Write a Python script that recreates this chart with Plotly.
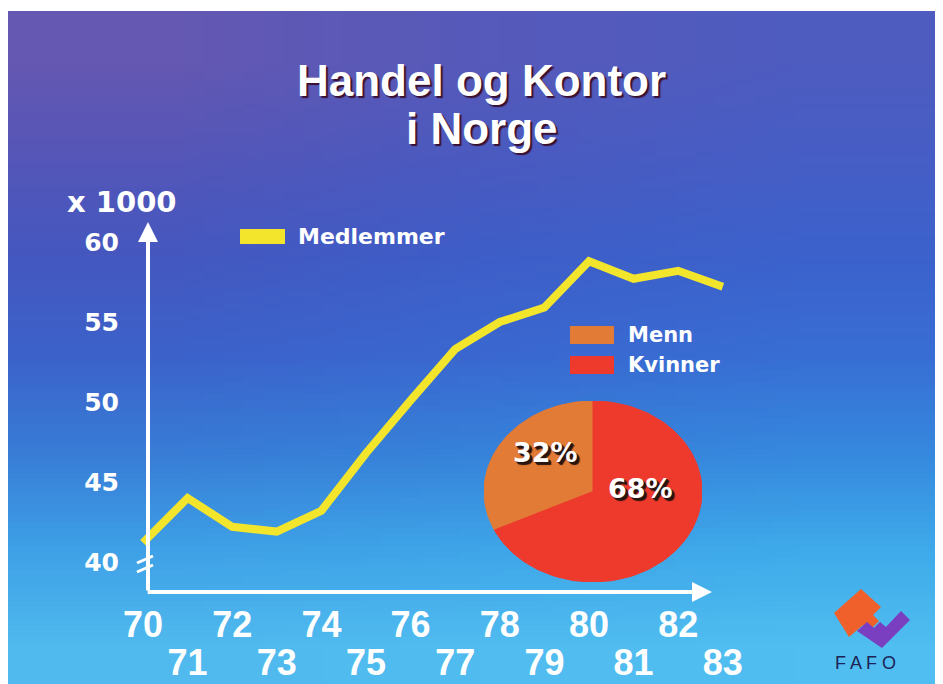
import base64
import struct
import zlib

import numpy as np
import plotly.graph_objects as go

# ---------------- data ----------------
years = [70, 71, 72, 73, 74, 75, 76, 77, 78, 79, 80, 81, 82, 83]
members = [41.2, 44.0, 42.2, 41.9, 43.2, 46.8, 50.1, 53.3, 55.0, 55.9, 58.8, 57.7, 58.2, 57.2]
y_ticks = [40, 45, 50, 55, 60]
series_name = "Medlemmer"
unit_label = "x 1000"
pie_labels = ["Menn", "Kvinner"]
pie_shares = [32, 68]
title_lines = ["Handel og Kontor", "i Norge"]
logo_text = "F A F O"

# ---------------- styling ----------------
W, H = 943, 684
OFF = 8  # page body margin offset of the figure in the screenshot
LINE_COLOR = "#f2e52c"
PIE_COLORS = ["#e27b35", "#ee3a2d"]
WHITE = "#ffffff"


def px_x(px):
    return (px - OFF) / W


def px_y(py):
    return 1 - (py - OFF) / H


# pixel geometry of the main axes (layout only, screenshot pixels)
X0_PX, YEAR_PX = 143, 44.6          # pixel of year 70, pixels per year
Y0_PX, UNIT_PX = 562, 16.0          # pixel of value 40, pixels per unit
XD = (124, 760)                      # x domain in pixels
YD = (200, 592)                      # y domain in pixels (top, bottom)
x_range = [70 + (XD[0] - X0_PX) / YEAR_PX, 70 + (XD[1] - X0_PX) / YEAR_PX]
y_range = [40 + (Y0_PX - YD[1]) / UNIT_PX, 40 + (Y0_PX - YD[0]) / UNIT_PX]


def make_png(rows):
    h = len(rows)
    w = len(rows[0])
    raw = b"".join(b"\x00" + bytes([c for p in row for c in p]) for row in rows)

    def chunk(t, d):
        return struct.pack(">I", len(d)) + t + d + struct.pack(">I", zlib.crc32(t + d) & 0xFFFFFFFF)

    png = (b"\x89PNG\r\n\x1a\n"
           + chunk(b"IHDR", struct.pack(">IIBBBBB", w, h, 8, 2, 0, 0, 0))
           + chunk(b"IDAT", zlib.compress(raw))
           + chunk(b"IEND", b""))
    return "data:image/png;base64," + base64.b64encode(png).decode()


bg_rows = [
    [(100, 88, 178), (86, 90, 186), (78, 92, 192)],
    [(84, 86, 184), (74, 90, 192), (70, 94, 198)],
    [(68, 88, 192), (62, 94, 200), (60, 98, 204)],
    [(60, 98, 202), (58, 104, 208), (56, 110, 212)],
    [(56, 124, 214), (54, 130, 218), (54, 136, 222)],
    [(62, 160, 230), (62, 165, 232), (62, 170, 234)],
    [(80, 186, 238), (80, 188, 240), (80, 190, 240)],
]
bg_src = make_png(bg_rows)

fig = go.Figure()

# main line
fig.add_trace(go.Scatter(
    x=years, y=members, mode="lines", name=series_name,
    line=dict(color=LINE_COLOR, width=8), xaxis="x", yaxis="y",
    hoverinfo="x+y", showlegend=False,
))
# same series bound to the staggered (odd-year) label axis, invisible
fig.add_trace(go.Scatter(
    x=years, y=members, mode="lines", name=series_name,
    line=dict(color="rgba(0,0,0,0)", width=0), xaxis="x2", yaxis="y",
    hoverinfo="skip", showlegend=False,
))

# pie as elliptical wedges on their own axes
cum = 0.0
for lab, share, col in zip(pie_labels, pie_shares, PIE_COLORS):
    a0 = 90 + cum * 3.6
    a1 = 90 + (cum + share) * 3.6
    th = np.radians(np.linspace(a0, a1, 120))
    xs = np.concatenate([[0], np.cos(th), [0]])
    ys = np.concatenate([[0], np.sin(th), [0]])
    fig.add_trace(go.Scatter(
        x=xs, y=ys, mode="lines", fill="toself", fillcolor=col,
        line=dict(color=col, width=1), name=lab, xaxis="x3", yaxis="y3",
        hoverinfo="name", showlegend=False,
    ))
    cum += share

tick_font = dict(family="Liberation Sans, Arial, sans-serif", size=36, color=WHITE, weight="bold")
even_years = [y for y in years if y % 2 == 0]
odd_years = [y for y in years if y % 2 == 1]

layout = dict(
    width=W, height=H,
    margin=dict(l=0, r=0, t=0, b=0),
    paper_bgcolor="#ffffff",
    plot_bgcolor="rgba(0,0,0,0)",
    showlegend=False,
    images=[dict(source=bg_src, xref="paper", yref="paper", x=0, y=px_y(11),
                 sizex=1, sizey=px_y(11), xanchor="left", yanchor="top",
                 sizing="stretch", layer="below")],
    xaxis=dict(
        domain=[px_x(XD[0]), px_x(XD[1])], range=x_range, anchor="y",
        showgrid=False, zeroline=False, showline=False, ticks="",
        tickvals=even_years, ticktext=[str(v) for v in even_years],
        tickfont=tick_font, ticklabelstandoff=8, fixedrange=True,
    ),
    xaxis2=dict(
        overlaying="x", matches="x", anchor="y", side="bottom", range=x_range,
        showgrid=False, zeroline=False, showline=False, ticks="",
        tickvals=odd_years, ticktext=[str(v) for v in odd_years],
        tickfont=tick_font, ticklabelstandoff=46, fixedrange=True,
    ),
    yaxis=dict(
        domain=[px_y(YD[1]), px_y(YD[0])], range=y_range, anchor="x",
        showgrid=False, zeroline=False, showline=False, ticks="",
        tickvals=y_ticks, ticktext=[str(v) for v in y_ticks],
        tickfont=dict(family="DejaVu Sans, sans-serif", size=25, color=WHITE, weight="bold"),
        ticklabelstandoff=4, fixedrange=True,
    ),
    xaxis3=dict(domain=[px_x(484), px_x(702)], range=[-1.0, 1.0], anchor="y3",
                visible=False, fixedrange=True),
    yaxis3=dict(domain=[px_y(582), px_y(401)], range=[-1.0, 1.0], anchor="x3",
                visible=False, fixedrange=True),
)
fig.update_layout(**layout)

# axis arrows (decoration) in data coordinates of the main axes
axis_x_val = 70 + (148 - X0_PX) / YEAR_PX
axis_y_val = 40 + (Y0_PX - 592) / UNIT_PX
y_tip = 40 + (Y0_PX - 222) / UNIT_PX
x_tip = 70 + (712 - X0_PX) / YEAR_PX

title_font = dict(family="Liberation Sans, Arial, sans-serif", size=44, color=WHITE,
                  weight="bold", shadow="2px 2px 1px #3a1030")

annotations = [
    dict(x=px_x(481), y=px_y(80), xref="paper", yref="paper", xanchor="center", yanchor="middle",
         text=title_lines[0], showarrow=False, font=title_font),
    dict(x=px_x(482), y=px_y(128), xref="paper", yref="paper", xanchor="center", yanchor="middle",
         text=title_lines[1], showarrow=False, font=title_font),
    dict(x=axis_x_val, y=y_tip, ax=axis_x_val, ay=axis_y_val, xref="x", yref="y",
         axref="x", ayref="y", text="", showarrow=True, arrowhead=2, arrowsize=1.0,
         arrowwidth=4, arrowcolor=WHITE, standoff=0, startstandoff=0),
    dict(x=x_tip, y=axis_y_val, ax=axis_x_val - 0.04, ay=axis_y_val, xref="x", yref="y",
         axref="x", ayref="y", text="", showarrow=True, arrowhead=2, arrowsize=1.0,
         arrowwidth=4, arrowcolor=WHITE, standoff=0, startstandoff=0),
    dict(x=px_x(65), y=px_y(202), xref="paper", yref="paper", xanchor="left", yanchor="middle",
         text=unit_label, showarrow=False,
         font=dict(family="DejaVu Sans, sans-serif", size=29, color=WHITE, weight="bold")),
    dict(x=px_x(296), y=px_y(237), xref="paper", yref="paper", xanchor="left", yanchor="middle",
         text=series_name, showarrow=False,
         font=dict(family="DejaVu Sans, sans-serif", size=22, color=WHITE, weight="bold")),
    dict(x=px_x(833), y=px_y(663), xref="paper", yref="paper", xanchor="left", yanchor="middle",
         text=logo_text, showarrow=False,
         font=dict(family="Liberation Sans, Arial, sans-serif", size=18, color="#1c2457")),
]

leg_rows = [335, 365]
for lab, col, yy in zip(pie_labels, PIE_COLORS, leg_rows):
    annotations.append(dict(x=px_x(626), y=px_y(yy), xref="paper", yref="paper",
                            xanchor="left", yanchor="middle", text=lab, showarrow=False,
                            font=dict(family="DejaVu Sans, sans-serif", size=21,
                                      color=WHITE, weight="bold")))

pie_label_pos = [(545, 453), (640, 488)]
for share, (lx, ly) in zip(pie_shares, pie_label_pos):
    annotations.append(dict(x=px_x(lx), y=px_y(ly), xref="paper", yref="paper",
                            xanchor="center", yanchor="middle", text=f"{share}%", showarrow=False,
                            font=dict(family="DejaVu Sans, sans-serif", size=27, color=WHITE,
                                      weight="bold",
                                      shadow="1px 1px 0px #2a1410, 2px 2px 0px #2a1410, 3px 3px 1px #2a1410")))
fig.update_layout(annotations=annotations)

shapes = [
    # legend patches
    dict(type="rect", xref="paper", yref="paper", x0=px_x(240), x1=px_x(285),
         y0=px_y(244), y1=px_y(229), fillcolor=LINE_COLOR, line=dict(width=0)),
]
for col, yy in zip(PIE_COLORS, leg_rows):
    shapes.append(dict(type="rect", xref="paper", yref="paper", x0=px_x(570), x1=px_x(614),
                       y0=px_y(yy + 9), y1=px_y(yy - 9), fillcolor=col, line=dict(width=0)))

# axis break marks
for dy in (0, 9):
    shapes.append(dict(type="line", xref="paper", yref="paper",
                       x0=px_x(137), y0=px_y(563 + dy), x1=px_x(153), y1=px_y(556 + dy),
                       line=dict(color=WHITE, width=3)))


def path_from(points):
    return "M " + " L ".join(f"{px_x(a):.5f},{px_y(b):.5f}" for a, b in points) + " Z"


orange_logo = [(834, 613), (861, 589), (881, 607), (873, 615), (879, 621), (869, 631),
               (863, 625), (849, 637)]
purple_logo = [(857, 631), (867, 622), (874, 628), (880, 622), (886, 627), (901, 611),
               (910, 620), (882, 648)]
shapes.append(dict(type="path", xref="paper", yref="paper", path=path_from(orange_logo),
                   fillcolor="#f0602a", line=dict(width=0)))
shapes.append(dict(type="path", xref="paper", yref="paper", path=path_from(purple_logo),
                   fillcolor="#7a3ec0", line=dict(width=0)))
fig.update_layout(shapes=shapes)

fig.write_html("out.html")
